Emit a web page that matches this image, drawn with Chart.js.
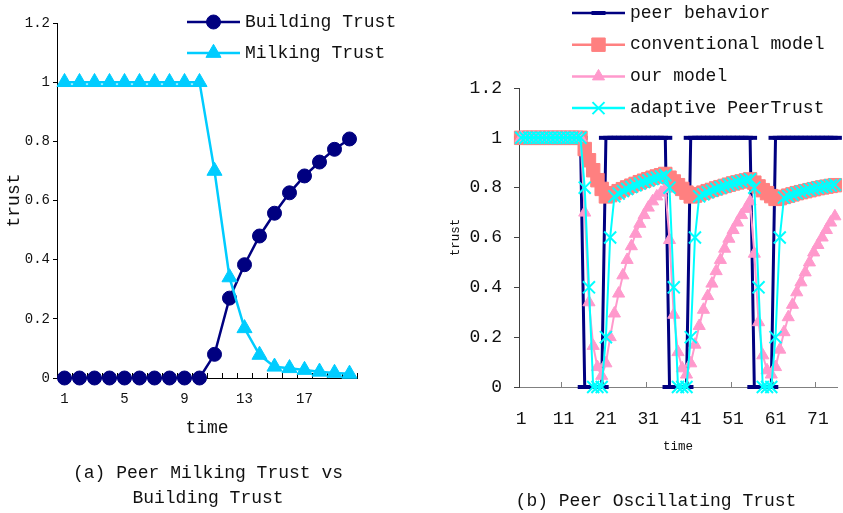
<!DOCTYPE html>
<html>
<head>
<meta charset="utf-8">
<script src="https://cdn.jsdelivr.net/npm/chart.js@4/dist/chart.umd.min.js"></script>
<style>
  html, body { margin: 0; padding: 0; background: #fff; }
  #wrap { position: relative; width: 843px; height: 513px; overflow: hidden; }
  canvas { position: absolute; top: 0; }
  #cA { left: 0; }
  #cB { left: 425px; }
</style>
</head>
<body>
<div id="wrap">
  <canvas id="cA" width="425" height="513"></canvas>
  <canvas id="cB" width="418" height="513"></canvas>
</div>
<script>
// ---- (a) milking vs building trust ----
const timeA = ['1','2','3','4','5','6','7','8','9','10','11','12','13','14','15','16','17','18','19','20'];
const buildingTrust = [0,0,0,0,0,0,0,0,0,0,0.08,0.27,0.383,0.48,0.557,0.626,0.683,0.73,0.773,0.808];
const milkingTrust  = [1,1,1,1,1,1,1,1,1,1,0.70,0.34,0.168,0.078,0.038,0.033,0.027,0.021,0.017,0.014];
const captionA = ['(a) Peer Milking Trust vs', 'Building Trust'];

// ---- (b) oscillating peer ----
const timeB = ['1','2','3','4','5','6','7','8','9','10','11','12','13','14','15','16','17','18','19','20',
  '21','22','23','24','25','26','27','28','29','30','31','32','33','34','35','36','37','38','39','40',
  '41','42','43','44','45','46','47','48','49','50','51','52','53','54','55','56','57','58','59','60',
  '61','62','63','64','65','66','67','68','69','70','71','72','73','74','75'];
const peerBehavior = [
  1,1,1,1,1,1,1,1,1,1,1,1,1,1,1, 0,0,0,0,0,
  1,1,1,1,1,1,1,1,1,1,1,1,1,1,1, 0,0,0,0,0,
  1,1,1,1,1,1,1,1,1,1,1,1,1,1,1, 0,0,0,0,0,
  1,1,1,1,1,1,1,1,1,1,1,1,1,1,1];
const conventionalModel = [
  1,1,1,1,1,1,1,1,1,1,1,1,1,1,1,
  0.955,0.91,0.87,0.83,0.795,0.765,
  0.77,0.778,0.786,0.794,0.801,0.808,0.815,0.822,0.828,0.834,0.84,0.845,0.85,0.855,
  0.84,0.825,0.81,0.795,0.78,0.765,
  0.768,0.774,0.78,0.786,0.791,0.797,0.802,0.807,0.812,0.817,0.821,0.825,0.829,0.833,
  0.82,0.805,0.79,0.778,0.766,0.755,
  0.758,0.763,0.768,0.773,0.778,0.782,0.786,0.79,0.794,0.798,0.801,0.804,0.807,0.81];
const ourModel = [
  1,1,1,1,1,1,1,1,1,1,1,1,1,1,1,
  0.70,0.34,0.165,0.08,0.045,
  0.095,0.2,0.295,0.375,0.448,0.51,0.565,0.615,0.655,0.69,0.72,0.745,0.765,0.78,0.795,
  0.59,0.29,0.14,0.075,0.05,
  0.095,0.17,0.245,0.31,0.365,0.415,0.465,0.51,0.555,0.595,0.63,0.66,0.69,0.715,0.745,
  0.535,0.26,0.127,0.067,0.05,
  0.08,0.15,0.22,0.28,0.33,0.38,0.42,0.46,0.5,0.54,0.57,0.6,0.63,0.66,0.685];
const adaptivePeerTrust = [
  1,1,1,1,1,1,1,1,1,1,1,1,1,1,1,
  0.8,0.4,0,0,0,0.2,0.6,
  0.765,0.776,0.786,0.795,0.803,0.81,0.817,0.823,0.829,0.835,0.84,0.845,0.85,
  0.8,0.4,0,0,0,0.2,0.6,
  0.765,0.773,0.781,0.788,0.795,0.801,0.807,0.812,0.817,0.822,0.826,0.83,0.834,
  0.8,0.4,0,0,0,0.2,0.6,
  0.76,0.766,0.772,0.778,0.783,0.788,0.792,0.796,0.8,0.803,0.806,0.809,0.812];
const captionB = ['(b) Peer Oscillating Trust'];

const MONO = "'Liberation Mono', 'DejaVu Sans Mono', monospace";
const INK = '#111';

// Legend drawn as a line sample with the series marker in its middle
const lineLegend = {
  id: 'lineLegend',
  afterDraw(chart, args, o) {
    const ctx = chart.ctx;
    ctx.save();
    ctx.font = o.font;
    ctx.textBaseline = 'middle';
    ctx.textAlign = 'left';
    chart.data.datasets.forEach((ds, i) => {
      const y = o.y0 + i * o.dy;
      ctx.strokeStyle = ds.borderColor;
      ctx.lineWidth = o.lineWidth;
      ctx.beginPath();
      ctx.moveTo(o.x0, y);
      ctx.lineTo(o.x1, y);
      ctx.stroke();
      ctx.fillStyle = ds.pointBackgroundColor;
      ctx.strokeStyle = ds.pointBorderColor;
      ctx.lineWidth = ds.pointBorderWidth;
      Chart.helpers.drawPoint(ctx, {
        pointStyle: ds.pointStyle, radius: ds.pointRadius,
        rotation: 0, borderWidth: ds.pointBorderWidth
      }, (o.x0 + o.x1) / 2, y);
      ctx.fillStyle = INK;
      ctx.fillText(ds.label, o.textX, y);
    });
    ctx.restore();
  }
};

// Figure caption under each panel
const caption = {
  id: 'caption',
  afterDraw(chart, args, o) {
    const ctx = chart.ctx;
    ctx.save();
    ctx.font = o.font;
    ctx.fillStyle = INK;
    ctx.textAlign = 'center';
    ctx.textBaseline = 'middle';
    o.lines.forEach((t, i) => ctx.fillText(t, o.x, o.y + i * o.lineHeight));
    ctx.restore();
  }
};

function series(label, data, color, style, radius, bw, lineW, order, fill) {
  return {
    label, data, order,
    borderColor: color, borderWidth: lineW, tension: 0, clip: false,
    pointStyle: style, pointRadius: radius, pointHoverRadius: radius,
    pointBackgroundColor: fill === undefined ? color : fill,
    pointBorderColor: color, pointBorderWidth: bw
  };
}

const trustTick = v => String(+(+v).toFixed(1));
const noSidePad = s => { s.paddingLeft = 0; s.paddingRight = 0; };

new Chart(document.getElementById('cA'), {
  type: 'line',
  data: {
    labels: timeA,
    datasets: [
      series('Building Trust', buildingTrust, '#000080', 'circle', 7, 1, 2.5, 1),
      series('Milking Trust', milkingTrust, '#00CCFF', 'triangle', 8.7, 1, 2.5, 0)
    ]
  },
  options: {
    responsive: false, animation: false, devicePixelRatio: 1,
    events: [],
    layout: { autoPadding: false, padding: { top: 23, right: 68, left: 0, bottom: 52.5 } },
    plugins: {
      legend: { display: false },
      tooltip: { enabled: false },
      title: { display: false },
      lineLegend: { x0: 187, x1: 240, textX: 245, y0: 22, dy: 31, lineWidth: 2.5, font: '18px ' + MONO },
      caption: { lines: captionA, x: 208, y: 473, lineHeight: 25, font: '18px ' + MONO }
    },
    scales: {
      x: {
        type: 'category', offset: true,
        grid: { offset: true, drawOnChartArea: false, drawTicks: true, tickLength: -5, tickColor: '#000' },
        border: { color: '#000', width: 1 },
        ticks: {
          autoSkip: false, maxRotation: 0, minRotation: 0, padding: 17.6, color: INK,
          font: { family: MONO, size: 14 },
          callback: (v, i) => (i % 4 === 0 ? timeA[i] : '')
        },
        title: { display: true, text: 'time', color: INK, font: { family: MONO, size: 18 }, padding: { top: 0, bottom: 21.7 } },
        afterFit: s => { s.height = 82.5; noSidePad(s); }
      },
      y: {
        min: 0, max: 1.2,
        grid: { drawOnChartArea: false, drawTicks: true, tickLength: 4, tickColor: '#000' },
        border: { color: '#000', width: 1 },
        ticks: { stepSize: 0.2, padding: 3, color: INK, font: { family: MONO, size: 14 }, callback: trustTick },
        title: { display: true, text: 'trust', color: INK, font: { family: MONO, size: 18 }, padding: { top: 3.7, bottom: 0 } },
        afterFit: s => { s.width = 57; }
      }
    }
  },
  plugins: [lineLegend, caption]
});

new Chart(document.getElementById('cB'), {
  type: 'line',
  data: {
    labels: timeB,
    datasets: [
      series('peer behavior', peerBehavior, '#000080', 'line', 7, 4, 3, 3),
      series('conventional model', conventionalModel, '#FF8080', 'rect', 9.5, 1, 2, 2),
      series('our model', ourModel, '#FF99CC', 'triangle', 7, 1, 2, 1),
      series('adaptive PeerTrust', adaptivePeerTrust, '#00FFFF', 'crossRot', 8.5, 2, 2, 0)
    ]
  },
  options: {
    responsive: false, animation: false, devicePixelRatio: 1,
    events: [],
    layout: { autoPadding: false, padding: { top: 88, right: 6, left: 0, bottom: 22 } },
    plugins: {
      legend: { display: false },
      tooltip: { enabled: false },
      title: { display: false },
      lineLegend: { x0: 147, x1: 200, textX: 205, y0: 13, dy: 31.7, lineWidth: 2.5, font: '18px ' + MONO },
      caption: { lines: captionB, x: 231, y: 501.5, lineHeight: 25, font: '18px ' + MONO }
    },
    scales: {
      x: {
        type: 'category', offset: true,
        grid: {
          offset: true, drawOnChartArea: false, drawTicks: true, tickLength: -5,
          tickColor: c => (c.index % 10 === 0 ? '#808080' : 'rgba(0,0,0,0)')
        },
        border: { color: '#808080', width: 1 },
        ticks: {
          autoSkip: false, maxRotation: 0, minRotation: 0, padding: 26.2, color: INK,
          font: { family: MONO, size: 18 },
          callback: (v, i) => (i % 10 === 0 ? timeB[i] : '')
        },
        title: { display: true, text: 'time', color: INK, font: { family: MONO, size: 12.5 }, padding: { top: 0, bottom: 36.5 } },
        afterFit: s => { s.height = 104; noSidePad(s); }
      },
      y: {
        min: 0, max: 1.2,
        grid: { drawOnChartArea: false, drawTicks: true, tickLength: 5, tickColor: '#404040' },
        border: { color: '#404040', width: 1 },
        ticks: { stepSize: 0.2, padding: 12, color: INK, font: { family: MONO, size: 18 }, callback: trustTick },
        title: { display: true, text: 'trust', color: INK, font: { family: MONO, size: 12.5 }, padding: { top: 23.5, bottom: 0 } },
        afterFit: s => { s.width = 94; }
      }
    }
  },
  plugins: [lineLegend, caption]
});
</script>
</body>
</html>
